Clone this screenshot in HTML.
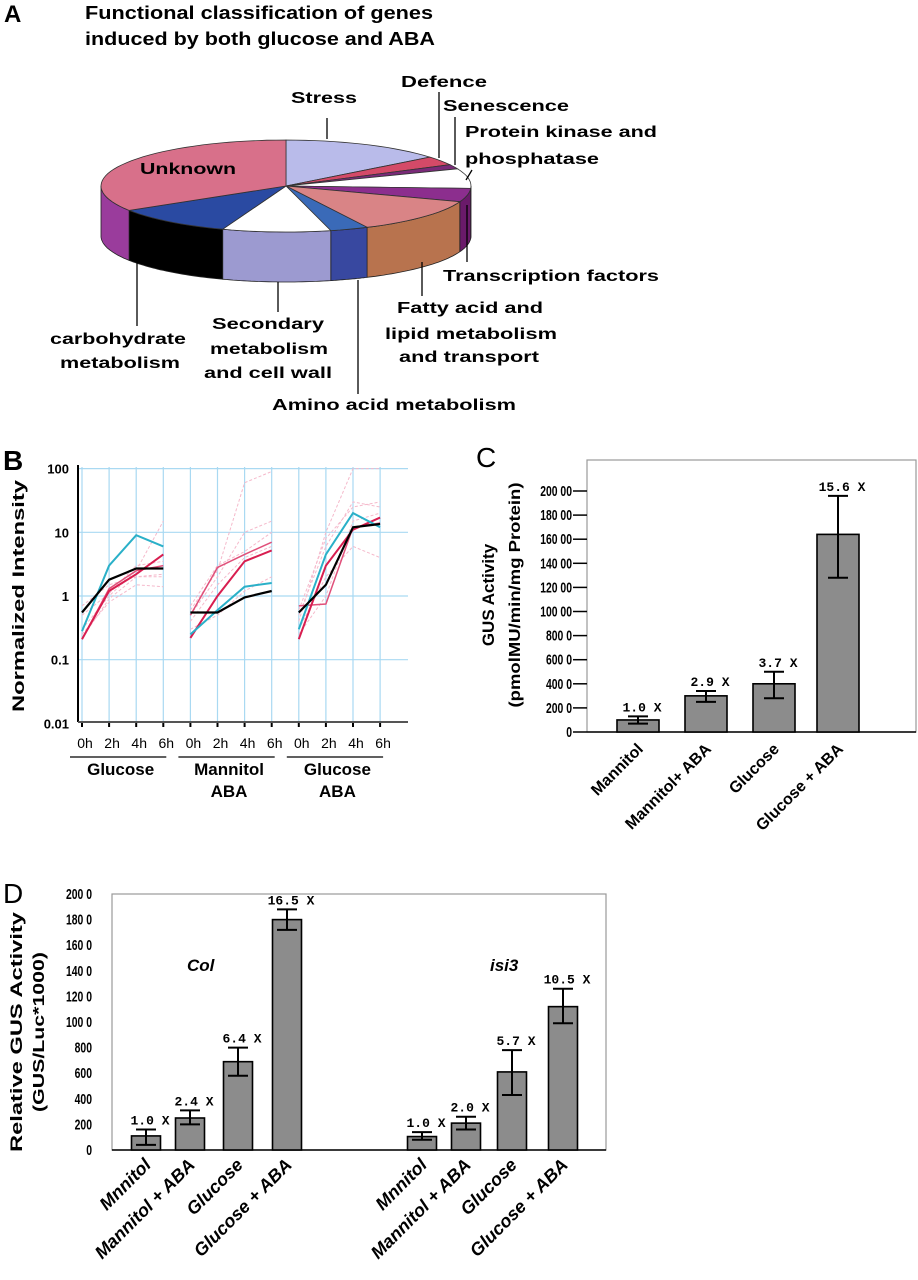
<!DOCTYPE html>
<html><head><meta charset="utf-8">
<style>
html,body{margin:0;padding:0;background:#fff;}
svg{display:block;font-family:"Liberation Sans",Arial,sans-serif;}
.b{font-weight:bold;}
</style></head>
<body>
<svg id="fig" width="918" height="1280" viewBox="0 0 918 1280" xmlns="http://www.w3.org/2000/svg">
<!-- Panel A -->
<g id="panelA">
<text x="4" y="22" font-size="24" class="b">A</text>
<text x="85" y="19" font-size="18" class="b" textLength="348" lengthAdjust="spacingAndGlyphs">Functional classification of genes</text>
<text x="85" y="45" font-size="18" class="b" textLength="350" lengthAdjust="spacingAndGlyphs">induced by both glucose and ABA</text>
<g id="pieG"></g>
<g font-size="16" class="b" stroke="none" fill="#000">
<text x="140" y="174" textLength="96" lengthAdjust="spacingAndGlyphs">Unknown</text>
<text x="291" y="103" textLength="66" lengthAdjust="spacingAndGlyphs">Stress</text>
<text x="401" y="87" textLength="86" lengthAdjust="spacingAndGlyphs">Defence</text>
<text x="443" y="111" textLength="126" lengthAdjust="spacingAndGlyphs">Senescence</text>
<text x="465" y="137" textLength="192" lengthAdjust="spacingAndGlyphs">Protein kinase and</text>
<text x="465" y="164" textLength="134" lengthAdjust="spacingAndGlyphs">phosphatase</text>
<text x="443" y="281" textLength="216" lengthAdjust="spacingAndGlyphs">Transcription factors</text>
<text x="397" y="313" textLength="146" lengthAdjust="spacingAndGlyphs">Fatty acid and</text>
<text x="385" y="339" textLength="172" lengthAdjust="spacingAndGlyphs">lipid metabolism</text>
<text x="399" y="362" textLength="140" lengthAdjust="spacingAndGlyphs">and transport</text>
<text x="272" y="410" textLength="244" lengthAdjust="spacingAndGlyphs">Amino acid metabolism</text>
<text x="212" y="329" textLength="112" lengthAdjust="spacingAndGlyphs">Secondary</text>
<text x="210" y="354" textLength="118" lengthAdjust="spacingAndGlyphs">metabolism</text>
<text x="204" y="378" textLength="128" lengthAdjust="spacingAndGlyphs">and cell wall</text>
<text x="50" y="344" textLength="136" lengthAdjust="spacingAndGlyphs">carbohydrate</text>
<text x="60" y="368" textLength="120" lengthAdjust="spacingAndGlyphs">metabolism</text>
</g>
<g stroke="#000" stroke-width="1.3">
<line x1="327" y1="118" x2="327" y2="139"/>
<line x1="439" y1="92" x2="439" y2="158"/>
<line x1="455" y1="117" x2="455" y2="165"/>
<line x1="472" y1="170" x2="466" y2="180"/>
<line x1="467" y1="205" x2="467" y2="262"/>
<line x1="422" y1="262" x2="422" y2="296"/>
<line x1="358" y1="280" x2="358" y2="394"/>
<line x1="278" y1="282" x2="278" y2="312"/>
<line x1="137" y1="262" x2="137" y2="326"/>
</g>
</g>

<!-- Panel B -->
<g id="panelB">
<text x="3" y="470" font-size="28" class="b">B</text>
<text transform="translate(24,596) rotate(-90)" text-anchor="middle" font-size="17" class="b" textLength="232" lengthAdjust="spacingAndGlyphs">Normalized Intensity</text>
<g id="bGrid"></g>
<g id="bLines"></g>
<g id="bAxes"></g>
</g>

<!-- Panel C -->
<g id="panelC">
<text x="476" y="467" font-size="28">C</text>
<text transform="translate(494,595) rotate(-90)" text-anchor="middle" font-size="17" class="b">GUS Activity</text>
<text transform="translate(520,595) rotate(-90)" text-anchor="middle" font-size="16" class="b" textLength="225" lengthAdjust="spacingAndGlyphs">(pmolMU/min/mg Protein)</text>
<g id="cChart"></g>
</g>

<!-- Panel D -->
<g id="panelD">
<text x="3" y="903" font-size="28">D</text>
<text transform="translate(22,1032) rotate(-90)" text-anchor="middle" font-size="17" class="b" textLength="240" lengthAdjust="spacingAndGlyphs">Relative GUS Activity</text>
<text transform="translate(44,1032) rotate(-90)" text-anchor="middle" font-size="16" class="b" textLength="160" lengthAdjust="spacingAndGlyphs">(GUS/Luc*1000)</text>
<text x="187" y="971" font-size="17" font-weight="bold" font-style="italic">Col</text>
<text x="490" y="971" font-size="17" font-weight="bold" font-style="italic">isi3</text>
<g id="dChart"></g>
</g>
</svg>
<script>
// ---------- Pie data ----------
const pieCategories = ["Stress","Defence","Senescence","Protein kinase and phosphatase","Transcription factors","Fatty acid and lipid metabolism and transport","Amino acid metabolism","Secondary metabolism and cell wall","carbohydrate metabolism","Unknown"];
const pieValues = [51, 11.4, 5.6, 25, 17, 44, 12, 34, 38, 122];
const pieTopColors = ["#b9bbea","#d44a68","#7a2a78","#ffffff","#8c2e8e","#d98486","#3a6ab8","#ffffff","#2a4aa2","#d8708a"];
const pieSideColors = ["#9a9cd0","#a83050","#5a1a5a","#dddddd","#6a1a6a","#b8734e","#3848a0","#9c9ad0","#000000","#9a3c9c"];

// ---------- Panel B data ----------
const bGroups = ["Glucose","Mannitol ABA","Glucose ABA"];
const bTimes = ["0h","2h","4h","6h"];
const bYTicks = [100, 10, 1, 0.1, 0.01];
const bYTickLabels = ["100","10","1","0.1","0.01"];
const bBlack = [[0.55,1.8,2.7,2.7],[0.55,0.55,0.95,1.2],[0.55,1.5,12,13.5]];
const bCyan = [[0.28,3,9,6],[0.25,0.6,1.4,1.6],[0.3,4.5,20,12]];
const bRed = [[0.21,1.2,2.2,4.5],[0.22,1.0,3.5,5.2],[0.21,3,11,17]];
const bRed2 = [[0.21,1.3,2.5,3],[0.5,2.8,4.5,7],[0.7,0.75,12,14]];
const bFaint = [
 [[0.3,1.0,2.5,15],[0.7,1.5,2,2],[0.25,0.8,1.5,1.4],[0.5,1.1,3,3.5],[0.22,0.9,2,2.2]],
 [[0.6,2.5,60,90],[0.5,2,10,15],[0.4,1.5,4,6],[0.3,0.5,1.2,2],[0.7,3,5,10]],
 [[0.4,10,100,100],[0.5,6,30,25],[0.3,2,6,4],[0.6,8,25,30],[0.25,1,15,20]]
];

// ---------- Panel C data ----------
const cCategories = ["Mannitol","Mannitol+ ABA","Glucose","Glucose + ABA"];
const cValues = [1000, 3000, 4000, 16400];
const cErrLow = [700, 2500, 2800, 12800];
const cErrHigh = [1300, 3400, 5000, 19600];
const cLabels = ["1.0  X","2.9  X","3.7  X","15.6  X"];
const cYTicks = [0,2000,4000,6000,8000,10000,12000,14000,16000,18000,20000];
const cYTickLabels = ["0","200 0","400 0","600 0","800 0","100 00","120 00","140 00","160 00","180 00","200 00"];

// ---------- Panel D data ----------
const dCategories = ["Mnnitol","Mannitol + ABA","Glucose","Glucose + ABA","Mnnitol","Mannitol + ABA","Glucose","Glucose + ABA"];
const dValues = [110, 250, 690, 1800, 105, 210, 610, 1120];
const dErrLow = [40, 200, 580, 1720, 80, 160, 430, 990];
const dErrHigh = [160, 310, 800, 1880, 140, 260, 780, 1260];
const dLabels = ["1.0  X","2.4  X","6.4  X","16.5  X","1.0  X","2.0  X","5.7  X","10.5  X"];
const dYTicks = [0,200,400,600,800,1000,1200,1400,1600,1800,2000];
const dYTickLabels = ["0","200","400","600","800","100 0","120 0","140 0","160 0","180 0","200 0"];

const NS = "http://www.w3.org/2000/svg";
function mk(tag, attrs, parent){
  const e = document.createElementNS(NS, tag);
  for (const k in attrs) e.setAttribute(k, attrs[k]);
  parent.appendChild(e);
  return e;
}

// ---------- Draw pie ----------
(function(){
  const g = document.getElementById('pieG');
  const cx = 286, cy = 186, rx = 185, ry = 46, depth = 50;
  const total = pieValues.reduce((a,b)=>a+b,0);
  const pt = (a, dy) => [cx + rx*Math.cos(a*Math.PI/180), cy + dy + ry*Math.sin(a*Math.PI/180)];
  let start = -90;
  const spans = pieValues.map(v => { const s = start; start += v/total*360; return [s, start]; });
  spans.forEach((sp, i) => {
    let a1 = sp[0], a2 = sp[1];
    let ranges = [];
    for (const off of [0, 360, -360]) {
      const s = Math.max(a1+off, 0), e = Math.min(a2+off, 180);
      if (e > s) ranges.push([s,e]);
    }
    ranges.forEach(r => {
      let d = "";
      const n = 30;
      for (let k=0;k<=n;k++){ const a = r[0]+(r[1]-r[0])*k/n; const p = pt(a,0); d += (k?"L":"M")+p[0].toFixed(1)+","+p[1].toFixed(1); }
      for (let k=n;k>=0;k--){ const a = r[0]+(r[1]-r[0])*k/n; const p = pt(a,depth); d += "L"+p[0].toFixed(1)+","+p[1].toFixed(1); }
      d += "Z";
      const s = mk('path', {d: d, fill: pieSideColors[i], stroke: "#222", "stroke-width": "0.8"}, g);
      
      
    });
  });
  spans.forEach((sp, i) => {
    let d = "M"+cx+","+cy;
    const n = Math.max(4, Math.ceil((sp[1]-sp[0])/3));
    for (let k=0;k<=n;k++){ const a = sp[0]+(sp[1]-sp[0])*k/n; const p = pt(a,0); d += "L"+p[0].toFixed(1)+","+p[1].toFixed(1); }
    d += "Z";
    const s = mk('path', {d: d, fill: pieTopColors[i], stroke: "#333", "stroke-width": "0.8"}, g);
    
    
  });
})();

// ---------- Draw panel B ----------
(function(){
  const grid = document.getElementById('bGrid');
  const lines = document.getElementById('bLines');
  const axes = document.getElementById('bAxes');
  const x0 = 82, dx = 27.1, left = 78, right = 408, top = 467, bottom = 722;
  const y = v => 596 - Math.log10(v)*63.7;
  const x = (gi, ti) => x0 + (gi*bTimes.length + ti)*dx;
  bYTicks.forEach((t,i) => {
    if (t > 0.01) { const l = mk('line', {x1:left, x2:right, y1:y(t), y2:y(t), stroke:"#a9d9f2", "stroke-width":"1.2"}, grid);
        }
    const tx = mk('text', {x: 69, y: y(t)+5, "text-anchor":"end", "font-size":"13", "font-weight":"bold"}, axes);
     
    tx.textContent = bYTickLabels[i];
  });
  bGroups.forEach((gname, gi) => {
    bTimes.forEach((tm, ti) => {
      const l = mk('line', {x1:x(gi,ti), x2:x(gi,ti), y1:top, y2:bottom, stroke:"#a9d9f2", "stroke-width":"1.2"}, grid);
       
      const tk = mk('line', {x1:x(gi,ti), x2:x(gi,ti), y1:bottom, y2:bottom+5, stroke:"#000", "stroke-width":"2"}, axes);
       
      const tx = mk('text', {x:x(gi,ti)+3, y:748, "text-anchor":"middle", "font-size":"14"}, axes);
       
      tx.textContent = tm;
    });
    const ul = mk('line', {x1:x(gi,0)-12, x2:x(gi,3)+3, y1:757, y2:757, stroke:"#000", "stroke-width":"1.2"}, axes);
     
    const parts = gname.split(" ");
    parts.forEach((p, pi) => {
      const tx = mk('text', {x:(x(gi,0)+x(gi,3))/2 - 2, y:775 + pi*22, "text-anchor":"middle", "font-size":"17", "font-weight":"bold"}, axes);
       
      tx.textContent = p;
    });
    const draw = (vals, color, w, name, dash) => {
      const pts = vals.map((v,ti) => x(gi,ti).toFixed(1)+","+y(v).toFixed(1)).join(" ");
      const attrs = {points: pts, fill:"none", stroke: color, "stroke-width": w};
      if (dash) attrs["stroke-dasharray"] = dash;
      const pl = mk('polyline', attrs, lines);
      
      
    };
    bFaint[gi].forEach(v => draw(v, "#f5b9cb", "1", "b-faint-series", "3,2"));
    draw(bRed2[gi], "#e0507a", "1.5", "b-red-series-2");
    draw(bRed[gi], "#d81e50", "2", "b-red-series");
    draw(bCyan[gi], "#2ab0c8", "2", "b-cyan-series");
    draw(bBlack[gi], "#000", "2.2", "b-black-series");
  });
  const ya = mk('line', {x1:left, x2:left, y1:top-2, y2:bottom, stroke:"#000", "stroke-width":"2"}, axes);
   
  const xa = mk('line', {x1:left, x2:right, y1:bottom, y2:bottom, stroke:"#555", "stroke-width":"2"}, axes);
   
})();

// ---------- Bar chart helper ----------
function barChart(gid, prefix, opts, cats, vals, lo, hi, labels, ticks, tickLabels, xs){
  const g = document.getElementById(gid);
  const y = v => opts.bottom - (v - 0)/opts.max*(opts.bottom - opts.top0);
  const fr = mk('rect', {x:opts.left, y:opts.frameTop, width:opts.right-opts.left, height:opts.bottom-opts.frameTop, fill:"none", stroke:"#999", "stroke-width":"1.2"}, g);
   
  const xa = mk('line', {x1:opts.left, x2:opts.right, y1:opts.bottom, y2:opts.bottom, stroke:"#000", "stroke-width":"1.6"}, g);
   
  ticks.forEach((t,i) => {
    if (opts.tickLen) { const tk = mk('line', {x1:opts.left-opts.tickLen, x2:opts.left, y1:y(t), y2:y(t), stroke:"#000", "stroke-width":"1.5"}, g);
        }
    const tx = mk('text', {x:opts.tickLabelX, y:y(t)+5, "text-anchor":"end", "font-size":"13", "font-weight":"bold"}, g);
     
    tx.setAttribute('transform', 'translate('+opts.tickLabelX+','+(y(t)+5)+') scale(0.8,1.15) translate('+(-opts.tickLabelX)+','+(-(y(t)+5))+')');
    tx.textContent = tickLabels[i];
  });
  cats.forEach((c,i) => {
    const cx = xs[i], w = opts.barW;
    const r = mk('rect', {x:cx-w/2, y:y(vals[i]), width:w, height:opts.bottom-y(vals[i]), fill:"#8c8c8c", stroke:"#000", "stroke-width":"1.6"}, g);
     
    const eb = mk('path', {d:"M"+cx+","+y(lo[i])+"V"+y(hi[i])+"M"+(cx-10)+","+y(lo[i])+"H"+(cx+10)+"M"+(cx-10)+","+y(hi[i])+"H"+(cx+10), stroke:"#000", "stroke-width":"2", fill:"none"}, g);
     
    const vl = mk('text', {x:cx+4, y:y(hi[i])-5, "text-anchor":"middle", "font-size":"13", "font-weight":"bold", "font-family":"Liberation Mono, monospace"}, g);
     
    vl.setAttribute('xml:space','preserve');
    vl.textContent = labels[i];
    const lx = cx + 6, ly = opts.bottom + opts.labelDy;
    const cl = mk('text', {x:lx, y:ly, "text-anchor":"end", "font-size":opts.labelSize, "font-weight":"bold", transform:"rotate(-45 "+lx+" "+ly+")"}, g);
    if (opts.italic) cl.setAttribute('font-style','italic');
     
    cl.textContent = c;
  });
}
barChart('cChart', 'c', {left:587, right:916, frameTop:460, bottom:732, top0:491, max:20000, tickLen:14, tickLabelX:572, barW:42, labelDy:18, italic:false, labelSize:"16"},
  cCategories, cValues, cErrLow, cErrHigh, cLabels, cYTicks, cYTickLabels, [638,706,774,838]);
barChart('dChart', 'd', {left:112, right:606, frameTop:894, bottom:1150, top0:894, max:2000, tickLen:0, tickLabelX:92, barW:29, labelDy:16, italic:true, labelSize:"18"},
  dCategories, dValues, dErrLow, dErrHigh, dLabels, dYTicks, dYTickLabels, [146,190,238,287,422,466,512,563]);
</script>
</body></html>
